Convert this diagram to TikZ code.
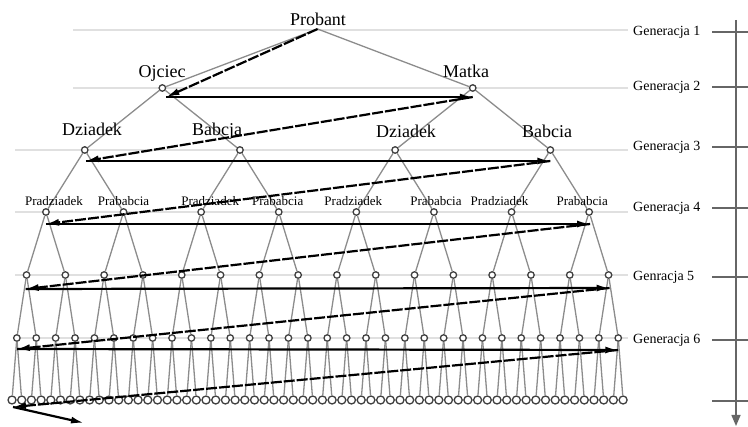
\documentclass[tikz,border=0pt]{standalone}
\usepackage{fontspec}
\setmainfont{Liberation Serif}
\usetikzlibrary{arrows.meta,calc}

\tikzset{
  osoba/.style = {circle, draw=black!75, fill=white, line width=1.3pt, inner sep=0pt},
  krawedz/.style = {draw=black!45, line width=1.3pt},
  poziom/.style = {draw=black!12, line width=1.6pt},
  etykieta/.style = {inner sep=0pt, anchor=base, font=\fontsize{18}{20}\selectfont},
  mala/.style = {inner sep=0pt, anchor=base, font=\fontsize{13}{15}\selectfont},
  generacja/.style = {inner sep=0pt, anchor=west, font=\fontsize{14}{16}\selectfont},
  os/.style = {draw=black!60, line width=1.5pt},
  strzalka/.style = {draw=black, line width=2.2pt, -{Latex[length=13pt, width=7pt]}},
  przerywana/.style = {dash pattern=on 11pt off 2pt}
}

\begin{document}
\begin{tikzpicture}[x=1pt, y=-1pt]
  \useasboundingbox (0,0) rectangle (748,427);

  % linie pokolen
  \foreach \y/\x in {30/73, 88/73, 150/15, 212/15, 275/15, 338/15, 400/15}
    \draw[poziom] (\x,\y) -- (628,\y);

  % drzewo przodkow
  \coordinate (n-1-1) at (317.6,29);
  \foreach \g/\y in {2/88, 3/150, 4/212, 5/275, 6/338, 7/400} {
    \pgfmathtruncatemacro{\n}{2^(\g-1)}
    \pgfmathtruncatemacro{\p}{\g-1}
    \pgfmathsetmacro{\d}{2^(7-\g)}
    \pgfmathsetmacro{\rozm}{\g==7 ? 8 : 6.5}
    \foreach \i in {1,...,\n} {
      \pgfmathtruncatemacro{\r}{(\i+1)/2}
      \node[osoba, minimum size=\rozm pt] (n-\g-\i) at ({12+9.7*(\d*(\i-0.5)-0.5)},\y) {};
      \path[krawedz] (n-\p-\r) -- (n-\g-\i);
    }
  }

  \node[etykieta] (probant) at (318,26) {Probant};
  \node[etykieta] (ojciec) at (162,78) {Ojciec};
  \node[etykieta] (matka) at (466,78) {Matka};
  \node[etykieta] (dziadek1) at (92,136) {Dziadek};
  \node[etykieta] (babcja1) at (217,136) {Babcja};
  \node[etykieta] (dziadek2) at (406,138) {Dziadek};
  \node[etykieta] (babcia2) at (547,138) {Babcia};

  \foreach \i/\t/\dx in {1/Pradziadek/8, 2/Prababcia/0, 3/Pradziadek/9, 4/Prababcia/-1,
                         5/Pradziadek/-3, 6/Prababcia/2, 7/Pradziadek/-12, 8/Prababcia/-7}
    \node[mala] (e-4-\i) at ($(n-4-\i)+(\dx,-6)$) {\t};

  % os pokolen
  \foreach \i/\y/\t in {1/32/Generacja 1, 2/87/Generacja 2, 3/147/Generacja 3,
                        4/208/Generacja 4, 5/277/Genracja 5, 6/340/Generacja 6}
    \node[generacja] (g-\i) at (633,\y) {\t};
  \foreach \y in {32,87,147,208,277,340,401}
    \draw[os] (712,\y) -- (748,\y);
  \coordinate (os-gora) at (736,20);
  \coordinate (os-dol) at (736,426);
  \draw[os, -{Triangle[length=11pt, width=9pt]}] (os-gora) -- (os-dol);

  % kolejnosc numeracji
  \coordinate (k1) at ($(n-2-1)+(4,9)$);
  \coordinate (k2) at ($(n-2-2)+(0,9)$);
  \coordinate (k3) at ($(n-3-1)+(1,11)$);
  \coordinate (k4) at ($(n-3-4)+(0,11)$);
  \coordinate (k5) at ($(n-4-1)+(0,12)$);
  \coordinate (k6) at ($(n-4-8)+(1,12)$);
  \coordinate (k7) at ($(n-5-1)+(-1,14)$);
  \coordinate (k8) at ($(n-5-16)+(1,13)$);
  \coordinate (k9) at ($(n-6-1)+(0,11)$);
  \coordinate (k10) at ($(n-6-32)+(0,12)$);
  \coordinate (k11) at ($(n-7-1)+(1,7)$);
  \coordinate (koniec) at (84,423);

  \draw[strzalka, przerywana] (n-1-1) -- (k1);
  \draw[strzalka] (k1) -- (k2);
  \draw[strzalka, przerywana] (k2) -- (k3);
  \draw[strzalka] (k3) -- (k4);
  \draw[strzalka, przerywana] (k4) -- (k5);
  \draw[strzalka] (k5) -- (k6);
  \draw[strzalka, przerywana] (k6) -- (k7);
  \draw[strzalka] (k7) -- (k8);
  \draw[strzalka, przerywana] (k8) -- (k9);
  \draw[strzalka] (k9) -- (k10);
  \draw[strzalka, przerywana] (k10) -- (k11);
  \draw[strzalka] (k11) -- (koniec);
\end{tikzpicture}
\end{document}
